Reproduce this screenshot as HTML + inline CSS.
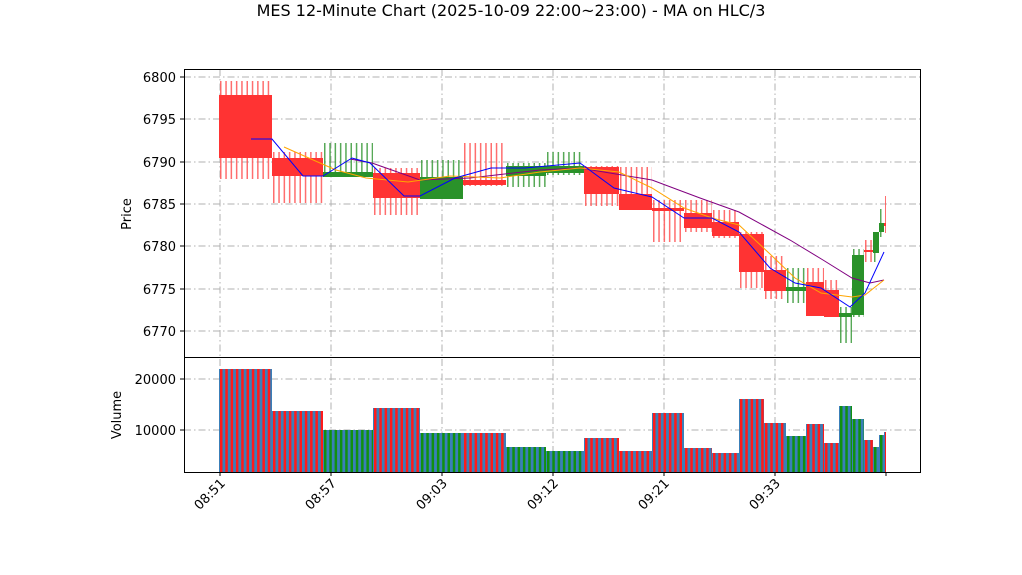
<!DOCTYPE html>
<html><head><meta charset="utf-8"><style>
body{margin:0;background:#fff;}
svg{display:block;font-family:"DejaVu Sans","Liberation Sans",sans-serif;}
</style></head><body>
<svg id="s" width="1022" height="575" viewBox="0 0 1022 575" xmlns="http://www.w3.org/2000/svg">
<text x="511" y="16" font-size="16" text-anchor="middle">MES 12-Minute Chart (2025-10-09 22:00~23:00) - MA on HLC/3</text>
<g stroke="#b0b0b0" stroke-width="1" stroke-dasharray="7,3,1.5,3" fill="none">
<line x1="184" x2="920" y1="331" y2="331"/><line x1="184" x2="920" y1="289" y2="289"/><line x1="184" x2="920" y1="246" y2="246"/><line x1="184" x2="920" y1="204" y2="204"/><line x1="184" x2="920" y1="162" y2="162"/><line x1="184" x2="920" y1="119" y2="119"/><line x1="184" x2="920" y1="77" y2="77"/>
<line x1="184" x2="920" y1="379" y2="379"/><line x1="184" x2="920" y1="430" y2="430"/>
<line x1="220" x2="220" y1="69" y2="472"/><line x1="331" x2="331" y1="69" y2="472"/><line x1="442" x2="442" y1="69" y2="472"/><line x1="553" x2="553" y1="69" y2="472"/><line x1="664" x2="664" y1="69" y2="472"/><line x1="775" x2="775" y1="69" y2="472"/>
</g>
<g id="wicks"></g>
<g id="bodies"></g>
<polyline fill="none" stroke="#800080" stroke-width="1" points="350,159 372,163 420,180 470,178 540,170 580,168 652,180 700,198 739,212 790,240 823,260 852,278 870,283 884,280"/>
<polyline fill="none" stroke="#ffa500" stroke-width="1" points="284,147 320,163 336,170 366,178 408,182 450,176 500,178 540,172 580,168 619,172 652,188 684,208 712,218 739,225 770,254 795,278 821,293 852,297 865,295 884,280"/>
<polyline fill="none" stroke="#0000ff" stroke-width="1" points="251,139 272,139 303,176 323,176 352,158 370,163 404,196 420,196 455,178 491,168 525,168 580,163 614,188 652,197 684,218 712,218 739,232 770,268 795,283 821,288 850,307 865,293 884,252"/>
<g id="vol"></g>
<rect x="184.5" y="69.5" width="736" height="288" fill="none" stroke="#000" stroke-width="1"/>
<rect x="184.5" y="357.5" width="736" height="115" fill="none" stroke="#000" stroke-width="1"/>
<g stroke="#000" stroke-width="1">
<line x1="180" x2="184" y1="331" y2="331"/><line x1="180" x2="184" y1="289" y2="289"/><line x1="180" x2="184" y1="246" y2="246"/><line x1="180" x2="184" y1="204" y2="204"/><line x1="180" x2="184" y1="162" y2="162"/><line x1="180" x2="184" y1="119" y2="119"/><line x1="180" x2="184" y1="77" y2="77"/>
<line x1="180" x2="184" y1="379" y2="379"/><line x1="180" x2="184" y1="430" y2="430"/>
<line x1="220" x2="220" y1="472" y2="476"/><line x1="331" x2="331" y1="472" y2="476"/><line x1="442" x2="442" y1="472" y2="476"/><line x1="553" x2="553" y1="472" y2="476"/><line x1="664" x2="664" y1="472" y2="476"/><line x1="775" x2="775" y1="472" y2="476"/><line x1="886" x2="886" y1="472" y2="476"/>
</g>
<g font-size="13" text-anchor="end" fill="#000">
<text x="176" y="82">6800</text><text x="176" y="124">6795</text><text x="176" y="167">6790</text><text x="176" y="209">6785</text><text x="176" y="251">6780</text><text x="176" y="294">6775</text><text x="176" y="336">6770</text>
<text x="176" y="384">20000</text><text x="176" y="435">10000</text>
</g>
<text transform="translate(131,214) rotate(-90)" font-size="13" text-anchor="middle">Price</text>
<text transform="translate(121,415) rotate(-90)" font-size="13" text-anchor="middle">Volume</text>
<g font-size="13" text-anchor="end">
<text transform="translate(226,484) rotate(-45)">08:51</text>
<text transform="translate(337,484) rotate(-45)">08:57</text>
<text transform="translate(448,484) rotate(-45)">09:03</text>
<text transform="translate(559,484) rotate(-45)">09:12</text>
<text transform="translate(670,484) rotate(-45)">09:21</text>
<text transform="translate(781,484) rotate(-45)">09:33</text>
</g>
</svg>
<script>
var NS="http://www.w3.org/2000/svg";
function el(p,t,a){var e=document.createElementNS(NS,t);for(var k in a)e.setAttribute(k,a[k]);document.getElementById(p).appendChild(e);}
var R="#ff3333",G="#2a922a";
// x0,x1, wickTop,wickBot, bodyTop,bodyBot, color, volY
var d=[
[219,272,81,179,95,158,R,369],
[272,323,152,203,158,176,R,411],
[323,373,143,177,172,177,G,430],
[373,420,168,215,173,198,R,408],
[420,463,160,199,177,199,G,433],
[463,506,143,186,180,185,R,433],
[506,546,163,187,166,176,G,447],
[546,584,152,175,166,173,G,451],
[584,619,166,206,167,194,R,438],
[619,652,167,210,194,210,R,451],
[652,684,200,242,208,211,R,413],
[684,712,200,232,213,228,R,448],
[712,739,210,238,222,236,R,453],
[739,764,232,288,234,272,R,399],
[764,786,256,299,270,291,R,423],
[786,806,268,303,287,291,G,436],
[806,824,268,315,282,316,R,424],
[824,839,280,317,290,317,R,443],
[839,852,307,343,313,317,G,406],
[852,864,249,317,255,315,G,419],
[864,873,240,262,250,252,R,440],
[873,879,232,262,232,253,G,447],
[879,884,209,237,223,232,G,435],
[884,886,196,233,223,226,R,432]];
d.forEach(function(c){
 var w=c[1]-c[0], wc=c[6]==R?"#ff5555":"#3a9a3a";
 var hm=(c[2]+c[3])/2, h=c[3]-c[2];
 el("wicks","line",{x1:c[0]+1,x2:c[1],y1:hm,y2:hm,"stroke-width":h,stroke:wc,"stroke-dasharray":"1.5 3.8","stroke-opacity":0.85});
 el("bodies","rect",{x:c[0],y:c[4],width:w,height:Math.max(2,c[5]-c[4]),fill:c[6]});
 el("vol","rect",{x:c[0],y:c[7],width:w,height:472-c[7],fill:"#3a7fb8"});
 var vm=(c[7]+472)/2;
 el("vol","line",{x1:c[0]+1,x2:c[1],y1:vm,y2:vm,"stroke-width":472-c[7],stroke:c[6]==R?"#ff1a1a":"#109010","stroke-dasharray":"2.5 2.8"});
});
</script>
</body></html>
